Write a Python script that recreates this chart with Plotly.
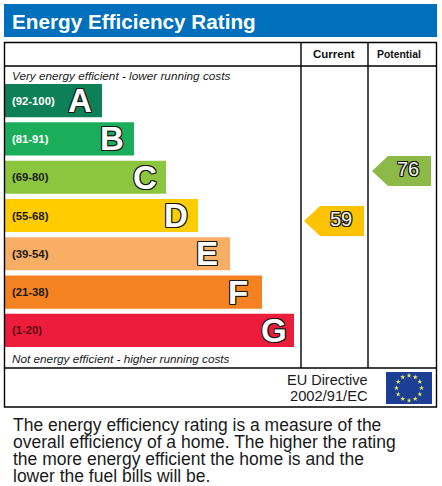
import numpy as np
import plotly.graph_objects as go

# rating bands
bands = ["A", "B", "C", "D", "E", "F", "G"]
band_ranges = ["(92-100)", "(81-91)", "(69-80)", "(55-68)", "(39-54)", "(21-38)", "(1-20)"]
band_lengths = [97, 129, 161, 193, 225, 257, 289]
band_colors = ["#0E8058", "#1BAE5A", "#8CC63F", "#FFCC00", "#F9AE66", "#F58220", "#ED1C3A"]
range_colors = ["#FFFFFF", "#FFFFFF", "#1A1A1A", "#1A1A1A", "#1A1A1A", "#1A1A1A", "#5A0A14"]

# the two scores
score_names = ["Current", "Potential"]
score_values = [59, 76]
score_colors = ["#FDC300", "#8CB947"]

body_text = [
    "The energy efficiency rating is a measure of the",
    "overall efficiency of a home. The higher the rating",
    "the more energy efficient the home is and the",
    "lower the fuel bills will be.",
]

W, H = 442, 486
FONT = "Liberation Sans"
OUTLINE = ",".join(f"{a}px {b}px 0 #1A1A1A" for a in (-1, 0, 1) for b in (-1, 0, 1) if a or b)
PAD = 3  # annotations sit this far in from their anchor


def frac(px):
    return 1 - px / H


fig = go.Figure()

# bars, on a category axis that only covers the band area
fig.add_trace(go.Bar(
    y=bands, x=band_lengths, base=5, orientation="h", yaxis="y2",
    marker=dict(color=band_colors, line_width=0), hoverinfo="skip",
))

# score arrows, on a score axis (59 -> 221px, 76 -> 171px)
half = 5.1
arrow_right = [364, 431]
arrow_tip = [304, 372]
arrow_neck = [320, 388]
for i, name in enumerate(score_names):
    s = score_values[i]
    fig.add_trace(go.Scatter(
        x=[arrow_tip[i], arrow_neck[i], arrow_right[i], arrow_right[i], arrow_neck[i], arrow_tip[i]],
        y=[s, s + half, s + half, s - half, s - half, s],
        yaxis="y3", mode="lines", fill="toself", fillcolor=score_colors[i],
        line=dict(width=0), hoverinfo="skip", name=name,
    ))
    fig.add_trace(go.Scatter(
        x=[arrow_right[i] - 23], y=[s], yaxis="y3", mode="text", text=[str(s)],
        textposition="middle center", hoverinfo="skip",
        textfont=dict(family=FONT, size=20, color="#F4F4E8", shadow=OUTLINE),
    ))

# EU flag stars
angles = np.deg2rad(np.arange(0, 360, 30))
fig.add_trace(go.Scatter(
    x=409 + 12.5 * np.cos(angles), y=388 + 12.5 * np.sin(angles), mode="markers",
    marker=dict(symbol="star", size=3.8, color="#E8E860", line_width=0), hoverinfo="skip",
))

ink = dict(color="#000000", width=1.4)
shapes = [
    dict(type="rect", x0=4, x1=437, y0=4, y1=37, fillcolor="#0070BC", line_width=0, layer="below"),
    dict(type="rect", x0=4.5, x1=436.5, y0=42.5, y1=407, line=ink),
    dict(type="line", x0=4.5, x1=436.5, y0=66, y1=66, line=ink),
    dict(type="line", x0=4.5, x1=436.5, y0=368, y1=368, line=ink),
    dict(type="line", x0=301, x1=301, y0=42.5, y1=368, line=ink),
    dict(type="line", x0=368, x1=368, y0=42.5, y1=368, line=ink),
    dict(type="rect", x0=386, x1=432, y0=372, y1=404, fillcolor="#1C3E94", line_width=0, layer="below"),
]


def label(x, y, text, size, color="#1A1A1A", anchor="left", **font):
    x = x - PAD if anchor == "left" else x + PAD if anchor == "right" else x
    return dict(x=x, y=y, xref="x", yref="y", text=text, showarrow=False, xanchor=anchor,
                yanchor="middle", font=dict(family=FONT, size=size, color=color, **font))


annotations = [
    label(13, 21, "Energy Efficiency Rating", 20.7, "#FFFFFF", weight="bold"),
    label(334, 54, "Current", 11.5, "#111111", "center", weight="bold"),
    label(399, 54, "Potential", 10.4, "#111111", "center", weight="bold"),
    label(13, 75, "Very energy efficient - lower running costs", 11.75, style="italic"),
    label(13, 358, "Not energy efficient - higher running costs", 11.75, style="italic"),
    label(367, 380, "EU Directive", 14.5, anchor="right"),
    label(367, 396, "2002/91/EC", 14.7, anchor="right"),
]
for n, line in enumerate(body_text):
    annotations.append(label(14, 425 + n * 17, line, 17.5))

# band labels hang off the category axis
letter_inset = [22, 22, 21, 22, 23, 24, 20]
for i, band in enumerate(bands):
    annotations.append(dict(
        x=13 - PAD, y=band, xref="x", yref="y2", text=band_ranges[i], showarrow=False,
        xanchor="left", yanchor="middle",
        font=dict(family=FONT, size=11.3, color=range_colors[i], weight="bold"),
    ))
    annotations.append(dict(
        x=5 + band_lengths[i] - letter_inset[i], y=band, xref="x", yref="y2", text=band,
        showarrow=False, xanchor="center", yanchor="middle",
        font=dict(family=FONT, size=33, color="white", weight="bold", shadow=OUTLINE),
    ))

axis = dict(visible=False, fixedrange=True)
fig.update_layout(
    width=W, height=H, margin=dict(l=0, r=0, t=0, b=0), showlegend=False,
    paper_bgcolor="white", plot_bgcolor="rgba(0,0,0,0)", bargap=0.135,
    xaxis=dict(range=[0, W], **axis),
    yaxis=dict(range=[H, 0], **axis),
    yaxis2=dict(domain=[frac(349.5), frac(81.5)], anchor="x", type="category",
                categoryorder="array", categoryarray=bands[::-1], range=[-0.5, 6.5], **axis),
    yaxis3=dict(range=[-31.1, 134.14], overlaying="y", anchor="x", **axis),
    shapes=shapes, annotations=annotations,
)

fig.write_html("out.html", post_script="document.body.style.margin='0';",
               config={"displayModeBar": False})
